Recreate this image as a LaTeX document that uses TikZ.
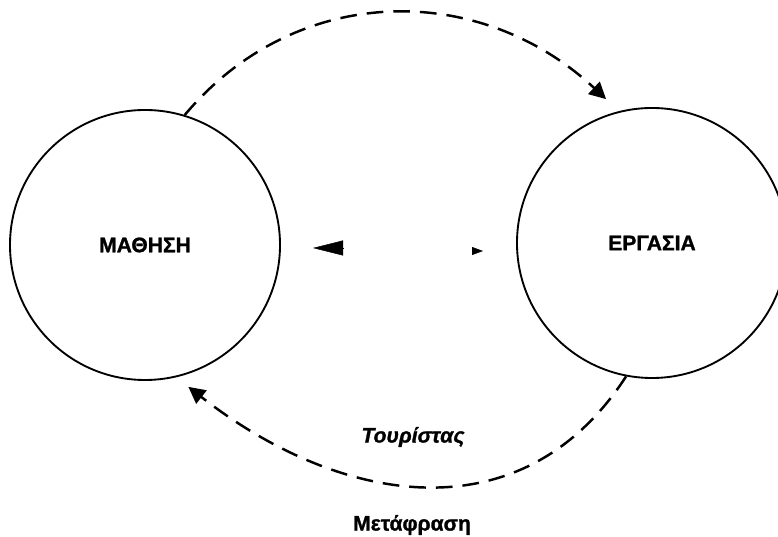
\documentclass[tikz,border=0pt]{standalone}
\usepackage{fontspec}
\setmainfont{Liberation Sans}
\newfontfamily\heavy[FakeBold=1.2]{Liberation Sans Bold}
\newfontfamily\heavyit[FakeBold=1.2]{Liberation Sans Bold Italic}
\usetikzlibrary{arrows.meta, calc}

\begin{document}
\begin{tikzpicture}[x=0.03cm, y=0.03cm,
    field/.style={draw, circle, line width=1.6pt, minimum size=8.1cm, inner sep=0pt,
      font=\fontsize{18}{20}\heavy},
    loop/.style={line width=2.1pt, dash pattern=on 0.5cm off 0.3cm,
      -{Triangle[length=0.5cm, width=0.5cm]}},
    tag/.style={font=\fontsize{18}{20}\heavy}]
  \clip (0,0) rectangle (778,537);
  \node[field] (mathisi) at (145,292) {ΜΑΘΗΣΗ};
  \node[field] (ergasia) at (652,294) {ΕΡΓΑΣΙΑ};
  \coordinate (ergtop) at ($(ergasia.center)+(107.7:4.53cm)$);
  \coordinate (maftail) at ($(mathisi.center)+(-73:4.45cm)$);
  \draw[loop] (mathisi.73) to[out=50, in=137, looseness=1.05] (ergtop);
  \draw[loop] (ergasia.259) to[out=237, in=322, looseness=1.12] (maftail);
  \node[tag, font=\fontsize{18}{20}\heavyit] (tourist) at (413,100) {Τουρίστας};
  \node[tag] (metafrasi) at (412,12) {Μετάφραση};
  % arrowheads between the two fields
  \coordinate (lbase) at (343,289); \coordinate (ltip) at (313,289);
  \coordinate (rbase) at (472,286); \coordinate (rtip) at (483,286);
  \draw[line width=0.4pt, -{Triangle[length=0.9cm, width=0.45cm]}] (lbase) -- (ltip);
  \draw[line width=0.4pt, -{Triangle[length=0.33cm, width=0.24cm]}] (rbase) -- (rtip);
\end{tikzpicture}
\end{document}
